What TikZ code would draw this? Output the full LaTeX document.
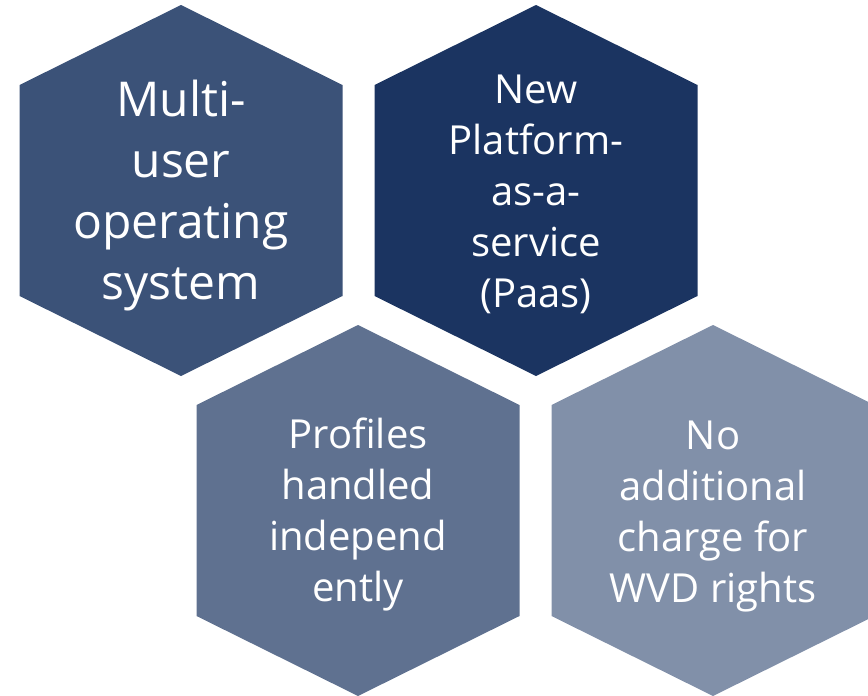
\documentclass[tikz,border=0pt]{standalone}
\usepackage{fontspec}
\setmainfont{Open Sans}
\definecolor{hexone}{RGB}{59,82,120}
\definecolor{hextwo}{RGB}{27,52,97}
\definecolor{hexthree}{RGB}{95,113,144}
\definecolor{hexfour}{RGB}{129,144,169}
\tikzset{
  hexlabel/.style={text=white, align=center, inner sep=0pt},
  bigtext/.style={font=\fontsize{48}{61}\selectfont},
  smalltext/.style={font=\fontsize{40}{51}\selectfont}
}
\begin{document}
\begin{tikzpicture}[x=1pt, y=-1pt]
\def\hexw{161.5};
\def\hexs{105.5};
\def\hext{185.5};

\clip (0,0) rectangle (868,696);

% hexagon with centre (#1,#2)
\newcommand\hexat[3]{\fill[#3] (#1-\hexw,#2-\hexs) -- (#1,#2-\hext) -- (#1+\hexw,#2-\hexs) -- (#1+\hexw,#2+\hexs) -- (#1,#2+\hext) -- (#1-\hexw,#2+\hexs) -- cycle;}

\hexat{181}{190.5}{hexone}
\hexat{536}{190.5}{hextwo}
\hexat{358}{510.5}{hexthree}
\hexat{713}{510.5}{hexfour}

\node[hexlabel, bigtext] (multi) at (181,196) {Multi-\\user\\operating\\system};
\node[hexlabel, smalltext] (paas) at (536,194) {New\\Platform-\\as-a-\\service\\(Paas)};
\node[hexlabel, smalltext] (profiles) at (358,514) {Profiles\\handled\\independ\\ently};
\node[hexlabel, smalltext] (charge) at (713,517) {No\\additional\\charge for\\WVD rights};

\end{tikzpicture}
\end{document}
